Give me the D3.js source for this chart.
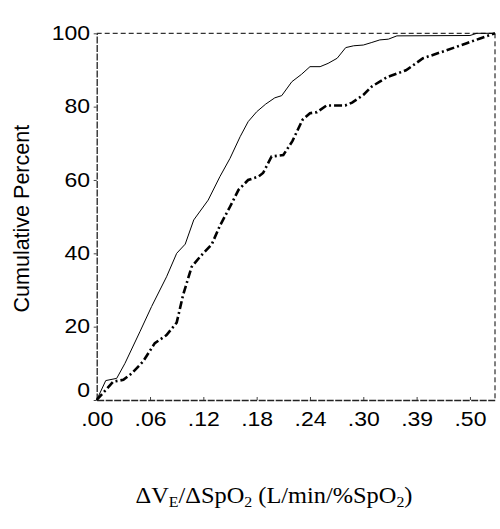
<!DOCTYPE html>
<html>
<head>
<meta charset="utf-8">
<script src="https://cdn.jsdelivr.net/npm/d3@7"></script>
<style>
  html, body { margin: 0; padding: 0; background: #fff; }
  svg { display: block; }
</style>
</head>
<body>
<svg id="chart" width="500" height="529"></svg>
<script>
// Tick labels of the x axis (evenly spaced categories on the original chart)
const xTickLabels = [".00", ".06", ".12", ".18", ".24", ".30", ".39", ".50"];
const yTicks = [0, 20, 40, 60, 80, 100];

// Positions along x are expressed in tick-index units (0 = ".00", 1 = ".06", ...)
const solidX = [0, 0.17, 0.375, 0.53, 0.81, 1.03, 1.31, 1.50, 1.66, 1.82, 2.09, 2.31, 2.50, 2.69, 2.84, 3.00, 3.17, 3.34, 3.47, 3.66, 3.84, 4.00, 4.19, 4.34, 4.51, 4.67, 4.82, 5.00, 5.16, 5.31, 5.47, 5.63, 7.00, 7.13, 7.47];
const solidY = [0, 5.3, 5.9, 10, 18.6, 25.5, 33.6, 40, 42.5, 49.1, 54.5, 60.9, 65.9, 71.8, 75.9, 78.6, 80.7, 82.4, 83, 86.8, 88.8, 90.9, 90.9, 91.8, 93.2, 96.1, 96.6, 96.8, 97.5, 98.2, 98.4, 99.3, 99.4, 100, 100];

const dashX = [0, 0.31, 0.50, 0.66, 0.87, 1.09, 1.31, 1.50, 1.62, 1.78, 1.94, 2.16, 2.31, 2.50, 2.66, 2.84, 3.03, 3.12, 3.28, 3.50, 3.67, 3.86, 4.00, 4.13, 4.31, 4.66, 4.79, 5.00, 5.16, 5.44, 5.80, 6.12, 6.53, 6.94, 7.19, 7.47];
const dashY = [0, 5, 5.5, 7.3, 10.5, 15.5, 17.7, 21.1, 28.6, 36.3, 39.1, 42.5, 47.5, 52.7, 57.3, 60, 60.9, 61.9, 66.4, 66.8, 70.6, 76.4, 78.2, 78.5, 80.3, 80.3, 81.1, 83.2, 85.5, 88, 89.9, 93.2, 95.2, 97.3, 98.6, 100];

const xMax = 7.47;

const svg = d3.select("#chart");
const pL = 96.7, pR = 495, pT = 33.3, pB = 400;
const stretch = 1.18; // the original tick lettering is slightly wide

const x = d3.scaleLinear().domain([0, xMax]).range([pL, pR]);
const y = d3.scaleLinear().domain([0, 100]).range([pB, pT]);

// frame: top and right dashed
svg.append("line").attr("x1", pL).attr("x2", pR).attr("y1", pT).attr("y2", pT)
  .attr("stroke", "#000").attr("stroke-width", 1).attr("stroke-dasharray", "5,3");
svg.append("line").attr("x1", pR).attr("x2", pR).attr("y1", pT).attr("y2", pB)
  .attr("stroke", "#000").attr("stroke-width", 1).attr("stroke-dasharray", "5,3");

// axes
const xAxis = d3.axisBottom(x)
  .tickValues(d3.range(xTickLabels.length))
  .tickFormat(i => xTickLabels[i])
  .tickSize(-3).tickPadding(8).tickSizeOuter(0);
const gx = svg.append("g").attr("transform", `translate(0,${pB})`).call(xAxis);

const yAxis = d3.axisLeft(y).tickValues(yTicks).tickSize(3).tickPadding(3).tickSizeOuter(0);
const gy = svg.append("g").attr("transform", `translate(${pL},0)`).call(yAxis);

[gx, gy].forEach(g => {
  g.select(".domain").attr("stroke", "#222").attr("stroke-width", 1.3).attr("stroke-dasharray", "7,1.5");
  g.selectAll(".tick line").attr("stroke", "#444");
  g.selectAll(".tick text").attr("font-family", "Liberation Sans, Arial, sans-serif")
    .attr("font-size", 19.5).attr("fill", "#000")
    .attr("transform", `scale(${stretch},1)`);
});
gx.selectAll(".tick text").attr("y", 26).attr("dy", 0);
gy.selectAll(".tick text").attr("x", -5.6)
  .attr("y", d => d === 0 ? -10 : 0);

// y axis title
svg.append("text")
  .attr("transform", `translate(21,${(pT + pB) / 2 + 2}) rotate(-90)`)
  .attr("text-anchor", "middle")
  .attr("dy", "0.35em")
  .attr("font-family", "Liberation Sans, Arial, sans-serif")
  .attr("font-size", 21.5)
  .text("Cumulative Percent");

// x axis title with subscripts
const xt = svg.append("text")
  .attr("transform", `translate(274,503) scale(1.06,1)`)
  .attr("text-anchor", "middle")
  .attr("font-family", "Liberation Serif, Times New Roman, serif")
  .attr("font-size", 23);
xt.append("tspan").text("ΔV");
xt.append("tspan").attr("font-size", 15).attr("dy", 4).text("E");
xt.append("tspan").attr("dy", -4).text("/ΔSpO");
xt.append("tspan").attr("font-size", 15).attr("dy", 4).text("2");
xt.append("tspan").attr("dy", -4).text(" (L/min/%SpO");
xt.append("tspan").attr("font-size", 15).attr("dy", 4).text("2");
xt.append("tspan").attr("dy", -4).text(")");

// curves
const line = d3.line().x(d => x(d[0])).y(d => y(d[1]));
const solid = solidX.map((v, i) => [v, solidY[i]]);
const dashed = dashX.map((v, i) => [v, dashY[i]]);

svg.append("path").datum(solid).attr("d", line)
  .attr("fill", "none").attr("stroke", "#000").attr("stroke-width", 1);
svg.append("path").datum(dashed).attr("d", line)
  .attr("fill", "none").attr("stroke", "#000").attr("stroke-width", 2.6)
  .attr("stroke-dasharray", "8,3,2,3");
</script>
</body>
</html>
